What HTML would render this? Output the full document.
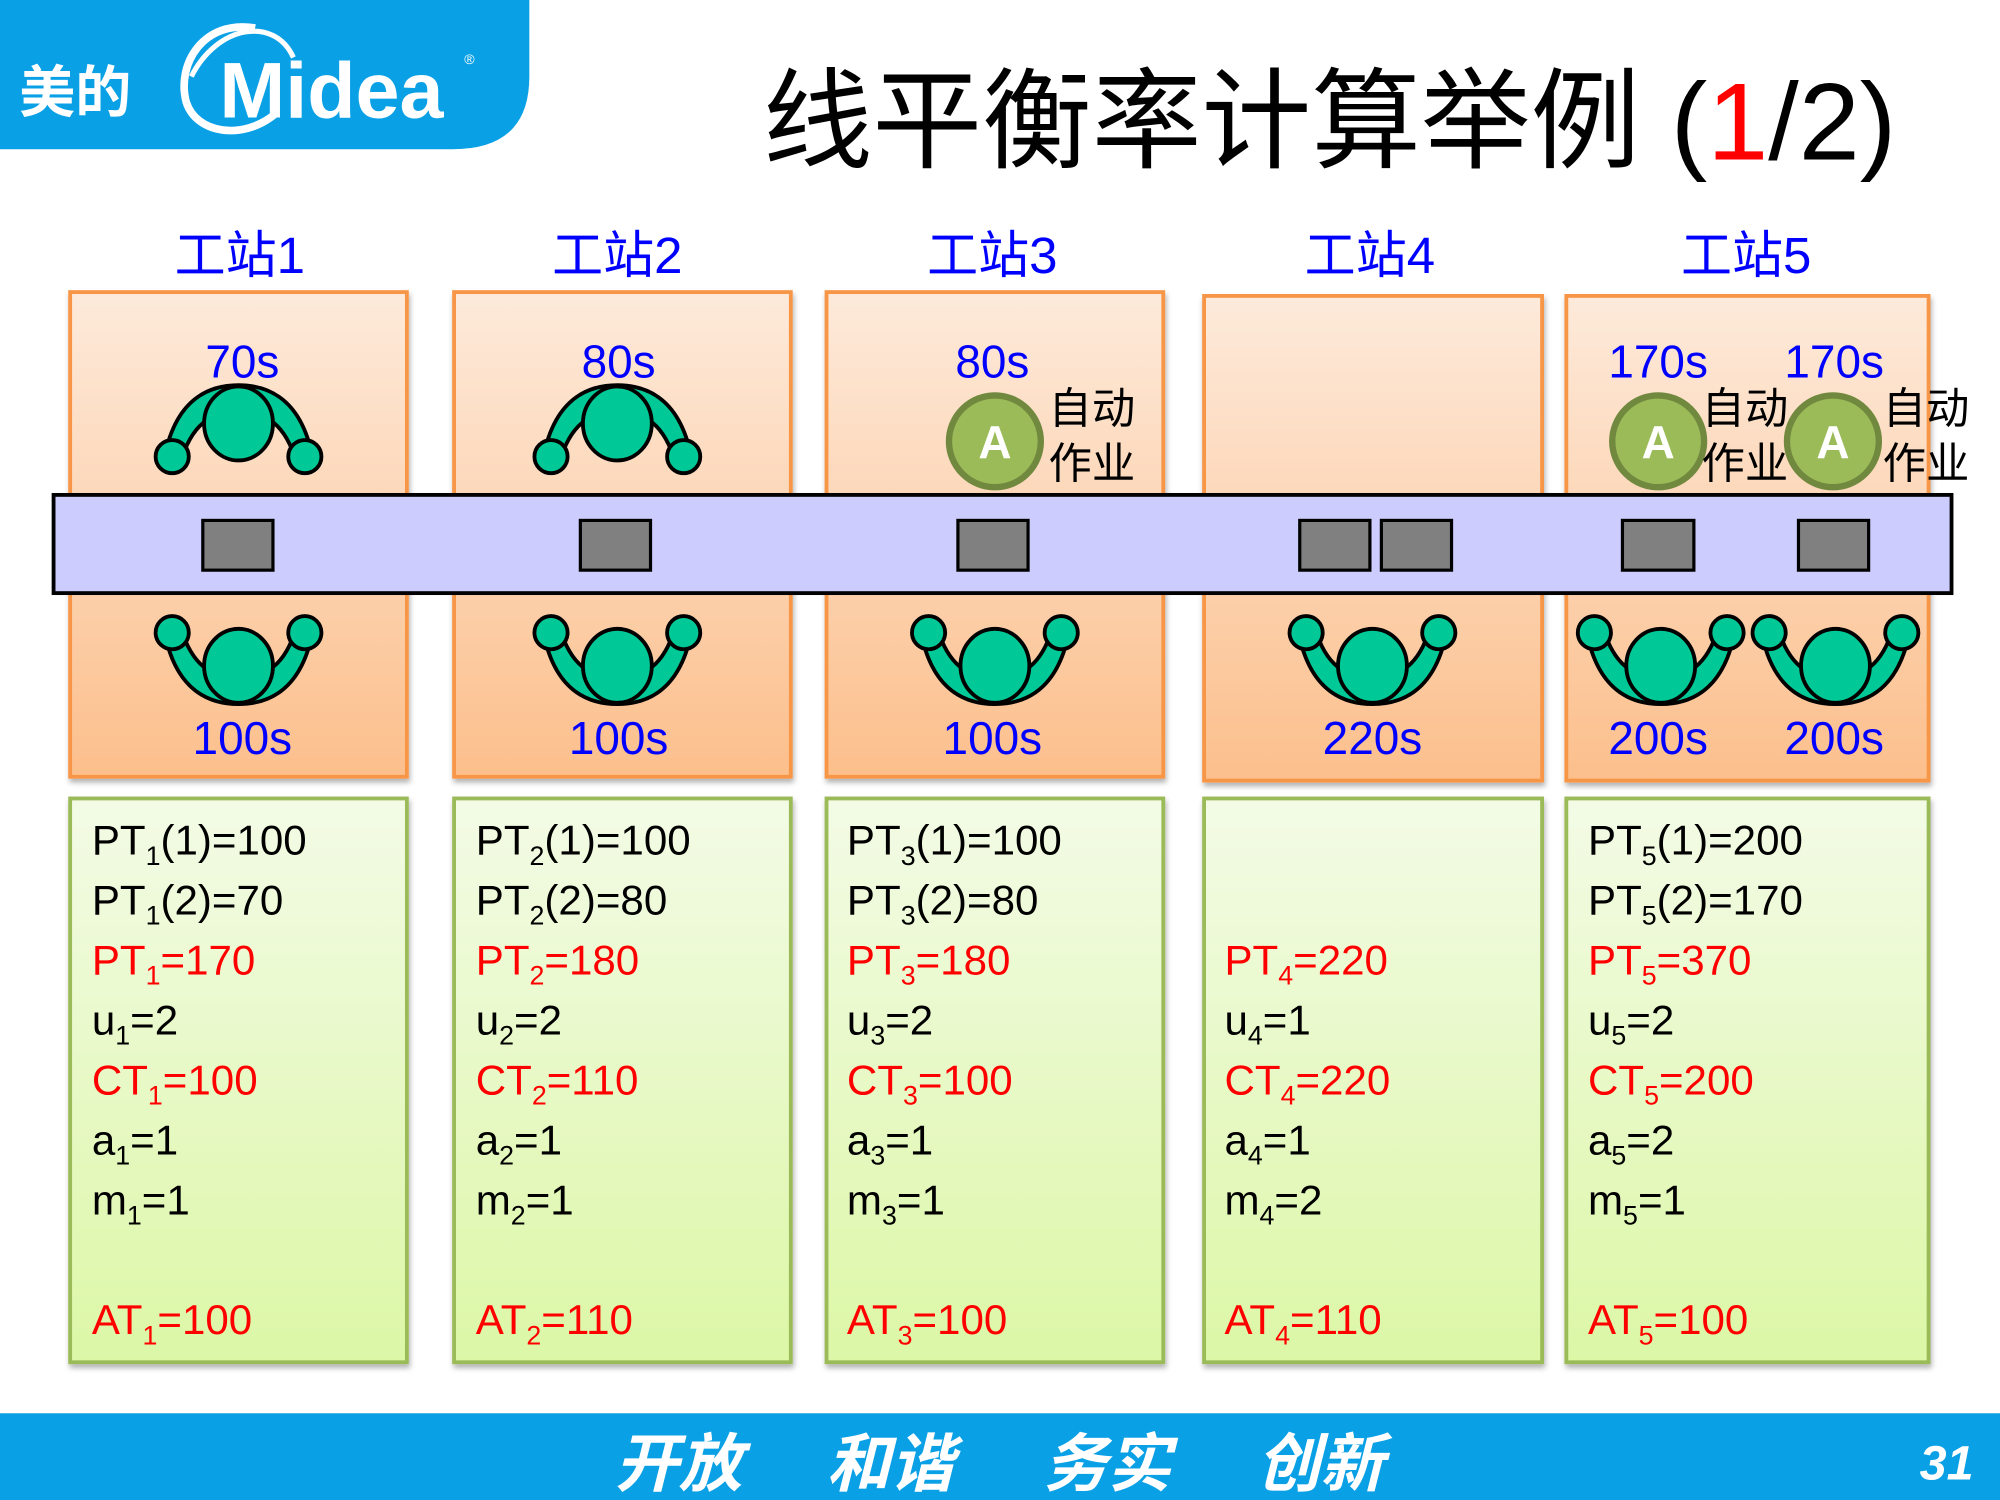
<!DOCTYPE html>
<html><head><meta charset="utf-8"><style>
html,body{margin:0;padding:0;background:#fff;}
svg{display:block}
text{font-family:"Liberation Sans","Noto Sans CJK SC",sans-serif;}
</style></head><body>
<svg width="2000" height="1500" viewBox="0 0 1568 1176" xmlns="http://www.w3.org/2000/svg">
<defs>
<linearGradient id="og" x1="0" y1="0" x2="0" y2="1"><stop offset="0" stop-color="#fdeadb"/><stop offset="1" stop-color="#fcbf8c"/></linearGradient>
<linearGradient id="gg" x1="0" y1="0" x2="0" y2="1"><stop offset="0" stop-color="#f3fbe6"/><stop offset="1" stop-color="#dcf7a6"/></linearGradient>
<symbol id="wk" viewBox="-70 -45 140 90" overflow="visible">
<path d="M-58,22 C-48,-28 -18,-34 0,-34 C18,-34 48,-28 58,22 L44,22 C34,-8 16,-14 0,-12 C-16,-14 -34,-8 -44,22 Z" fill="#00c896" stroke="#000" stroke-width="3"/>
<ellipse cx="0" cy="-4" rx="27" ry="29" fill="#00c896" stroke="#000" stroke-width="3"/>
<circle cx="-52" cy="22" r="13" fill="#00c896" stroke="#000" stroke-width="3"/>
<circle cx="52" cy="22" r="13" fill="#00c896" stroke="#000" stroke-width="3"/>
</symbol>
<g id="robot"><circle r="36" fill="#9bbb59" stroke="#71893f" stroke-width="5"/><text x="0" y="13" text-anchor="middle" font-size="36" font-weight="bold" fill="#fff">A</text></g>
<filter id="sh"><feDropShadow dx="1" dy="3" stdDeviation="2" flood-opacity="0.3"/></filter>
</defs>

<path d="M0,0 H415 V60 Q415,117 355,117 H0 Z" fill="#0aa0e6"/>
<text x="15" y="88" font-size="44" fill="#fff" font-weight="bold">美的</text>
<path d="M200,22 C160,15 138,50 146,80 C154,105 190,110 215,90" fill="none" stroke="#fff" stroke-width="6"/>
<path d="M150,60 C170,20 215,12 230,45" fill="none" stroke="#fff" stroke-width="4"/>
<text x="172" y="92" font-size="62" fill="#fff" font-weight="bold">Midea</text>
<text x="364" y="50" font-size="11" fill="#fff">®</text>

<text x="598" y="125" font-size="86" fill="#000">线平衡率计算举例 (<tspan fill="#ff0000">1</tspan>/2)</text>

<g font-size="40" fill="#0000ff" text-anchor="middle">
<text x="188" y="214">工站1</text><text x="484" y="214">工站2</text><text x="778" y="214">工站3</text><text x="1074" y="214">工站4</text><text x="1369" y="214">工站5</text>
</g>

<g fill="url(#og)" stroke="#f79646" stroke-width="3" filter="url(#sh)">
<rect x="55" y="229" width="264" height="380"/>
<rect x="356" y="229" width="264" height="380"/>
<rect x="648" y="229" width="264" height="380"/>
<rect x="944" y="232" width="265" height="380"/>
<rect x="1228" y="232" width="284" height="380"/>
</g>

<g font-size="36" fill="#0000ff" text-anchor="middle">
<text x="190" y="296">70s</text><text x="485" y="296">80s</text><text x="778" y="296">80s</text>
<text x="1300" y="296">170s</text><text x="1438" y="296">170s</text>
</g>

<use href="#wk" x="117" y="291" width="140" height="90"/>
<use href="#wk" x="414" y="291" width="140" height="90"/>

<use href="#robot" x="780" y="346"/>
<use href="#robot" x="1300" y="346"/>
<use href="#robot" x="1437" y="346"/>
<g font-size="34" fill="#000">
<text x="822" y="332">自动</text><text x="822" y="375">作业</text>
<text x="1334" y="332">自动</text><text x="1334" y="375">作业</text>
<text x="1476" y="332">自动</text><text x="1476" y="375">作业</text>
</g>

<rect x="42" y="388" width="1488" height="77" fill="#ccccff" stroke="#000" stroke-width="3"/>
<g fill="#808080" stroke="#000" stroke-width="2.5">
<rect x="159" y="408" width="55" height="39"/>
<rect x="455" y="408" width="55" height="39"/>
<rect x="751" y="408" width="55" height="39"/>
<rect x="1019" y="408" width="55" height="39"/>
<rect x="1083" y="408" width="55" height="39"/>
<rect x="1272" y="408" width="56" height="39"/>
<rect x="1410" y="408" width="55" height="39"/>
</g>

<g transform="translate(0,1036) scale(1,-1)">
<use href="#wk" x="117" y="473" width="140" height="90"/>
<use href="#wk" x="414" y="473" width="140" height="90"/>
<use href="#wk" x="710" y="473" width="140" height="90"/>
<use href="#wk" x="1006" y="473" width="140" height="90"/>
<use href="#wk" x="1232" y="473" width="140" height="90"/>
<use href="#wk" x="1369" y="473" width="140" height="90"/>
</g>

<g font-size="36" fill="#0000ff" text-anchor="middle">
<text x="190" y="591">100s</text><text x="485" y="591">100s</text><text x="778" y="591">100s</text>
<text x="1076" y="591">220s</text><text x="1300" y="591">200s</text><text x="1438" y="591">200s</text>
</g>

<g fill="url(#gg)" stroke="#9bbb59" stroke-width="3" filter="url(#sh)">
<rect x="55" y="626" width="264" height="442"/>
<rect x="356" y="626" width="264" height="442"/>
<rect x="648" y="626" width="264" height="442"/>
<rect x="944" y="626" width="265" height="442"/>
<rect x="1228" y="626" width="284" height="442"/>
</g>

<g font-size="33">
<text x="72" y="670">PT<tspan font-size="21" dy="8">1</tspan><tspan dy="-8">(1)=100</tspan></text>
<text x="72" y="717">PT<tspan font-size="21" dy="8">1</tspan><tspan dy="-8">(2)=70</tspan></text>
<text x="72" y="764" fill="#f00">PT<tspan font-size="21" dy="8">1</tspan><tspan dy="-8">=170</tspan></text>
<text x="72" y="811">u<tspan font-size="21" dy="8">1</tspan><tspan dy="-8">=2</tspan></text>
<text x="72" y="858" fill="#f00">CT<tspan font-size="21" dy="8">1</tspan><tspan dy="-8">=100</tspan></text>
<text x="72" y="905">a<tspan font-size="21" dy="8">1</tspan><tspan dy="-8">=1</tspan></text>
<text x="72" y="952">m<tspan font-size="21" dy="8">1</tspan><tspan dy="-8">=1</tspan></text>
<text x="72" y="1046" fill="#f00">AT<tspan font-size="21" dy="8">1</tspan><tspan dy="-8">=100</tspan></text>
<text x="373" y="670">PT<tspan font-size="21" dy="8">2</tspan><tspan dy="-8">(1)=100</tspan></text>
<text x="373" y="717">PT<tspan font-size="21" dy="8">2</tspan><tspan dy="-8">(2)=80</tspan></text>
<text x="373" y="764" fill="#f00">PT<tspan font-size="21" dy="8">2</tspan><tspan dy="-8">=180</tspan></text>
<text x="373" y="811">u<tspan font-size="21" dy="8">2</tspan><tspan dy="-8">=2</tspan></text>
<text x="373" y="858" fill="#f00">CT<tspan font-size="21" dy="8">2</tspan><tspan dy="-8">=110</tspan></text>
<text x="373" y="905">a<tspan font-size="21" dy="8">2</tspan><tspan dy="-8">=1</tspan></text>
<text x="373" y="952">m<tspan font-size="21" dy="8">2</tspan><tspan dy="-8">=1</tspan></text>
<text x="373" y="1046" fill="#f00">AT<tspan font-size="21" dy="8">2</tspan><tspan dy="-8">=110</tspan></text>
<text x="664" y="670">PT<tspan font-size="21" dy="8">3</tspan><tspan dy="-8">(1)=100</tspan></text>
<text x="664" y="717">PT<tspan font-size="21" dy="8">3</tspan><tspan dy="-8">(2)=80</tspan></text>
<text x="664" y="764" fill="#f00">PT<tspan font-size="21" dy="8">3</tspan><tspan dy="-8">=180</tspan></text>
<text x="664" y="811">u<tspan font-size="21" dy="8">3</tspan><tspan dy="-8">=2</tspan></text>
<text x="664" y="858" fill="#f00">CT<tspan font-size="21" dy="8">3</tspan><tspan dy="-8">=100</tspan></text>
<text x="664" y="905">a<tspan font-size="21" dy="8">3</tspan><tspan dy="-8">=1</tspan></text>
<text x="664" y="952">m<tspan font-size="21" dy="8">3</tspan><tspan dy="-8">=1</tspan></text>
<text x="664" y="1046" fill="#f00">AT<tspan font-size="21" dy="8">3</tspan><tspan dy="-8">=100</tspan></text>
<text x="960" y="764" fill="#f00">PT<tspan font-size="21" dy="8">4</tspan><tspan dy="-8">=220</tspan></text>
<text x="960" y="811">u<tspan font-size="21" dy="8">4</tspan><tspan dy="-8">=1</tspan></text>
<text x="960" y="858" fill="#f00">CT<tspan font-size="21" dy="8">4</tspan><tspan dy="-8">=220</tspan></text>
<text x="960" y="905">a<tspan font-size="21" dy="8">4</tspan><tspan dy="-8">=1</tspan></text>
<text x="960" y="952">m<tspan font-size="21" dy="8">4</tspan><tspan dy="-8">=2</tspan></text>
<text x="960" y="1046" fill="#f00">AT<tspan font-size="21" dy="8">4</tspan><tspan dy="-8">=110</tspan></text>
<text x="1245" y="670">PT<tspan font-size="21" dy="8">5</tspan><tspan dy="-8">(1)=200</tspan></text>
<text x="1245" y="717">PT<tspan font-size="21" dy="8">5</tspan><tspan dy="-8">(2)=170</tspan></text>
<text x="1245" y="764" fill="#f00">PT<tspan font-size="21" dy="8">5</tspan><tspan dy="-8">=370</tspan></text>
<text x="1245" y="811">u<tspan font-size="21" dy="8">5</tspan><tspan dy="-8">=2</tspan></text>
<text x="1245" y="858" fill="#f00">CT<tspan font-size="21" dy="8">5</tspan><tspan dy="-8">=200</tspan></text>
<text x="1245" y="905">a<tspan font-size="21" dy="8">5</tspan><tspan dy="-8">=2</tspan></text>
<text x="1245" y="952">m<tspan font-size="21" dy="8">5</tspan><tspan dy="-8">=1</tspan></text>
<text x="1245" y="1046" fill="#f00">AT<tspan font-size="21" dy="8">5</tspan><tspan dy="-8">=100</tspan></text>
</g>

<rect x="0" y="1108" width="1568" height="68" fill="#0aa0e6"/>
<g font-size="50" fill="#fff" font-weight="bold" font-style="italic">
<text x="482" y="1165">开放</text><text x="648" y="1165">和谐</text><text x="818" y="1165">务实</text><text x="985" y="1165">创新</text>
</g>
<text x="1505" y="1160" font-size="38" fill="#fff" font-weight="bold" font-style="italic">31</text>
</svg>
</body></html>
